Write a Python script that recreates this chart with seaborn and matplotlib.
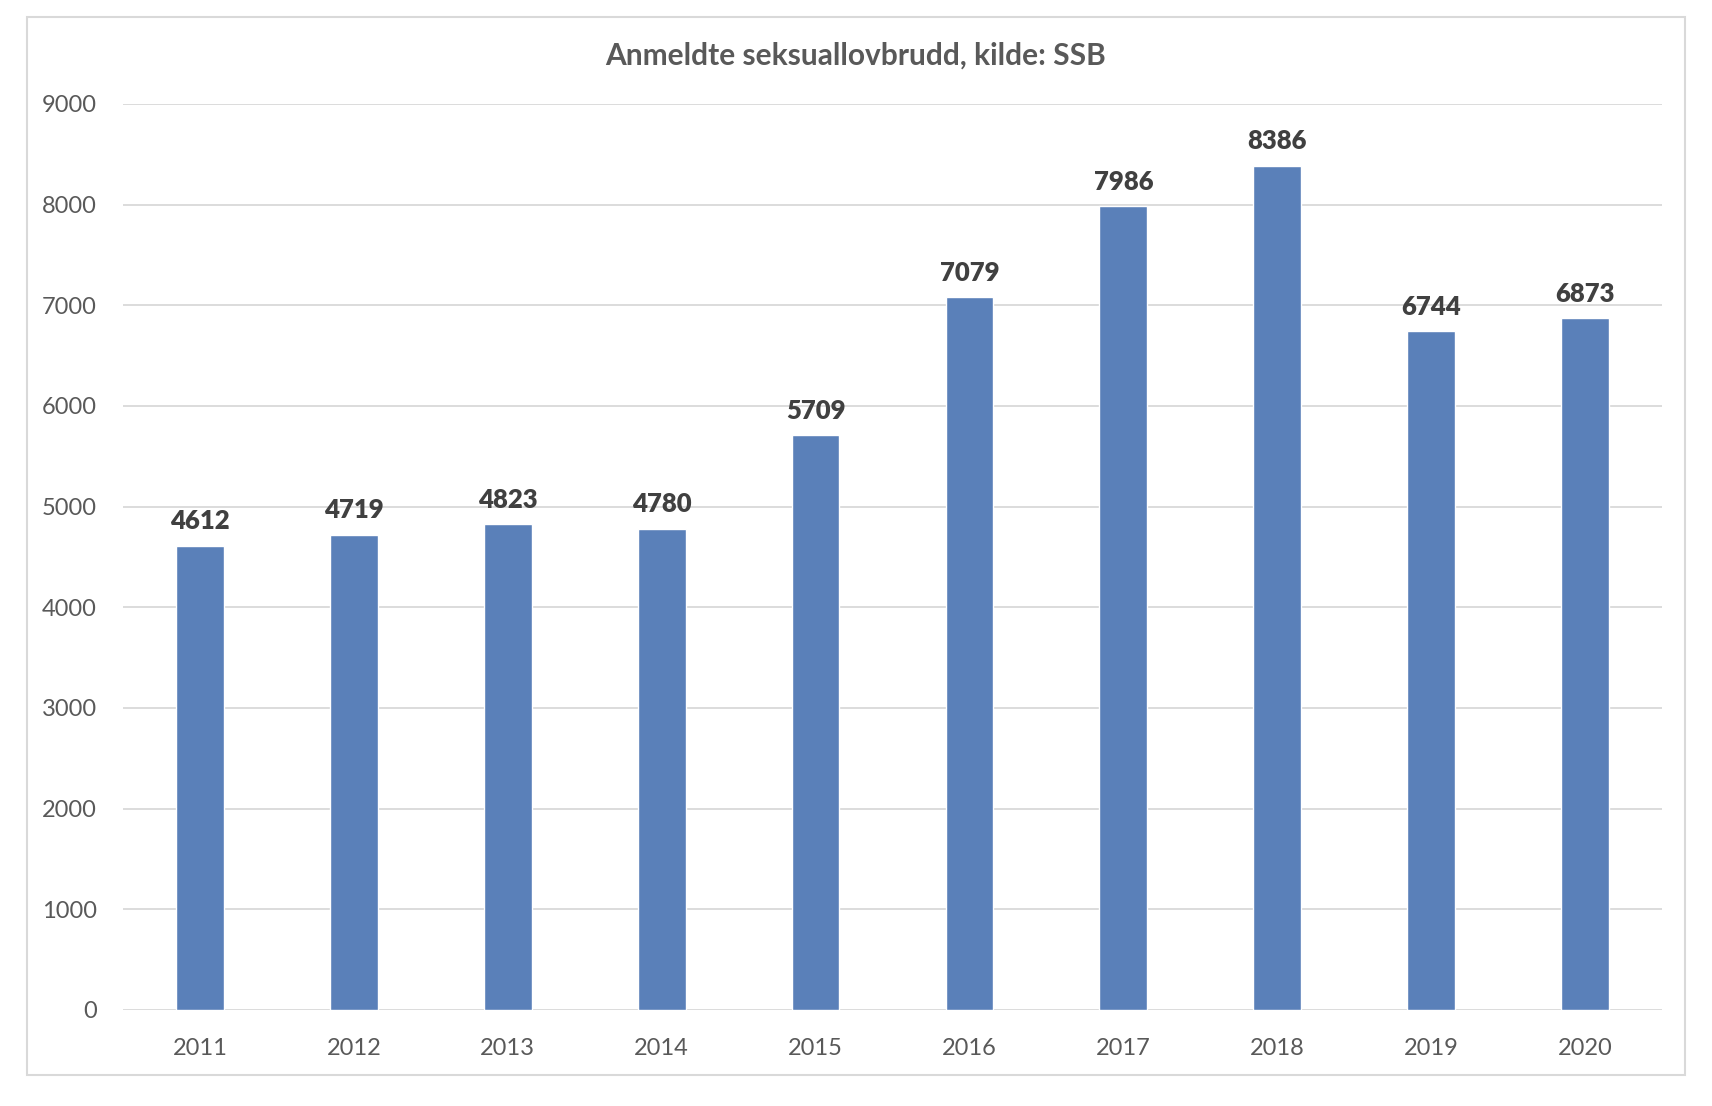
import matplotlib
matplotlib.use("Agg")
import matplotlib.pyplot as plt
import seaborn as sns
import pandas as pd
from matplotlib.patches import Rectangle

years = ["2011", "2012", "2013", "2014", "2015", "2016", "2017", "2018", "2019", "2020"]
values = [4612, 4719, 4823, 4780, 5709, 7079, 7986, 8386, 6744, 6873]
yticks = [0, 1000, 2000, 3000, 4000, 5000, 6000, 7000, 8000, 9000]
title = "Anmeldte seksuallovbrudd, kilde: SSB"

sns.set_theme(style="white")
plt.rcParams['font.family'] = ['Lato', 'DejaVu Sans']

df = pd.DataFrame({"year": years, "value": values})

fig = plt.figure(figsize=(17.12, 11.06), dpi=100)
ax = fig.add_axes([123/1712, 1 - 1010/1106, (1662-123)/1712, (1010-104)/1106])

sns.barplot(data=df, x="year", y="value", color="#5a80b9", saturation=1, width=0.31, ax=ax, zorder=3)

ax.set_ylim(0, 9000)
ax.set_xlim(-0.5, len(years) - 0.5)
ax.set_yticks(yticks)
ax.set_yticklabels([str(t) for t in yticks])
ax.set_xlabel("")
ax.set_ylabel("")
for s in ax.spines.values():
    s.set_visible(False)
ax.yaxis.grid(True, color="#d9d9d9", linewidth=1.3, zorder=0)
ax.set_axisbelow(True)
ax.tick_params(axis="both", length=0, labelsize=17, labelcolor="#595959")
ax.tick_params(axis="y", pad=19)
ax.tick_params(axis="x", pad=20)

for c in ax.containers:
    ax.bar_label(c, labels=[str(v) for v in values], padding=9, fontsize=18.5,
                 fontweight="heavy", color="#404040")

fig.text((607+1105)/2/1712, 1 - 56/1106, title, ha="center", va="center",
         fontsize=21.5, fontweight="bold", color="#595959")

border = Rectangle((27/1712, 1 - 1075/1106), 1658/1712, 1058/1106,
                   transform=fig.transFigure, fill=False, edgecolor="#d9d9d9", linewidth=1.5)
fig.patches.append(border)

fig.savefig("out.png", dpi=100)
